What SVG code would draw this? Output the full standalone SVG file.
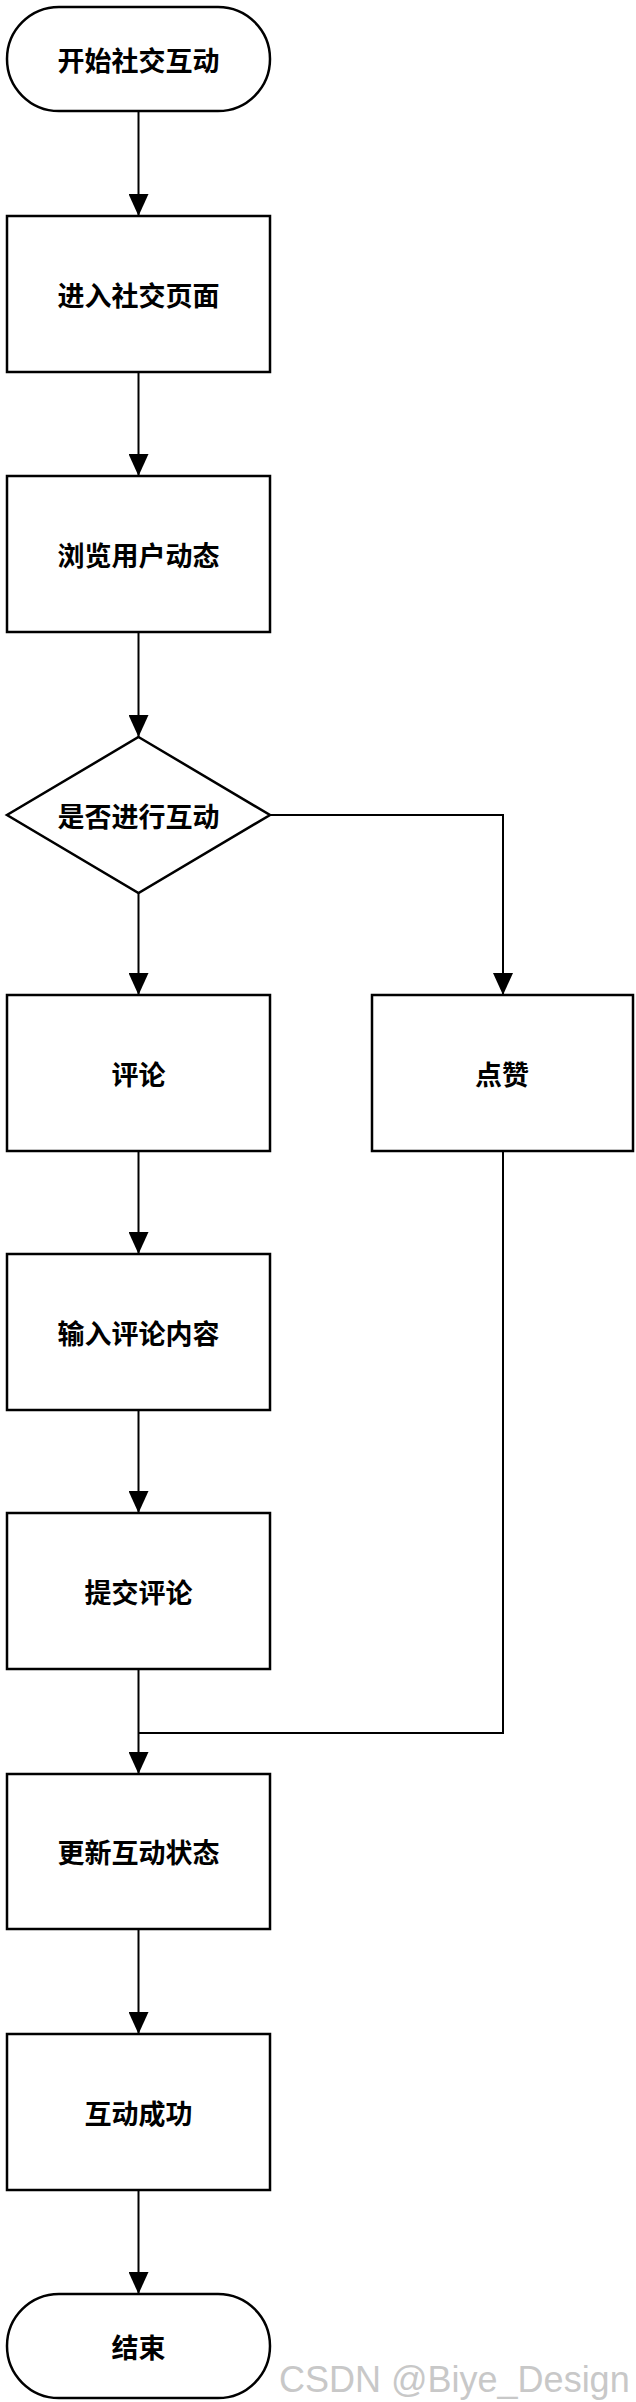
<svg xmlns="http://www.w3.org/2000/svg" width="636" height="2402" viewBox="0 0 636 2402">
<style>
.n{fill:#fff;stroke:#000;stroke-width:2.5}
.t{font-family:"Noto Sans CJK SC","Noto Sans CJK JP",sans-serif;font-weight:bold;font-size:27px;text-anchor:middle;dominant-baseline:central;fill:#000}
.c{fill:none;stroke:#000;stroke-width:2}
</style>
<defs><marker id="a" markerWidth="20" markerHeight="22" refX="10" refY="22" orient="auto-start-reverse" markerUnits="userSpaceOnUse" viewBox="0 0 20 22"><path d="M0,0 L20,0 L10,22 Z" fill="#000"/></marker>
<marker id="ah" markerWidth="22" markerHeight="20" refX="22" refY="10" orient="auto" markerUnits="userSpaceOnUse" viewBox="0 0 22 20"><path d="M0,0 L22,10 L0,20 Z" fill="#000"/></marker></defs>
<g id="connectors">
<path class="c" d="M138.5,111V216" marker-end="url(#ah)"/>
<path class="c" d="M138.5,372V476" marker-end="url(#ah)"/>
<path class="c" d="M138.5,632V737" marker-end="url(#ah)"/>
<path class="c" d="M138.5,893V995" marker-end="url(#ah)"/>
<path class="c" d="M270,815H503V995" marker-end="url(#ah)"/>
<path class="c" d="M138.5,1151V1254" marker-end="url(#ah)"/>
<path class="c" d="M138.5,1410V1513" marker-end="url(#ah)"/>
<path class="c" d="M138.5,1669V1774" marker-end="url(#ah)"/>
<path class="c" d="M503,1151V1733H138.5"/>
<path class="c" d="M138.5,1929V2034" marker-end="url(#ah)"/>
<path class="c" d="M138.5,2190V2294" marker-end="url(#ah)"/>
</g>
<g id="start"><rect class="n" x="7" y="7" width="263" height="104" rx="52"/><text class="t" x="138.5" y="59">开始社交互动</text></g>
<g id="enter"><rect class="n" x="7" y="216" width="263" height="156"/><text class="t" x="138.5" y="294">进入社交页面</text></g>
<g id="browse"><rect class="n" x="7" y="476" width="263" height="156"/><text class="t" x="138.5" y="554">浏览用户动态</text></g>
<g id="decide"><polygon class="n" points="138.5,737 270,815 138.5,893 7,815"/><text class="t" x="138.5" y="815">是否进行互动</text></g>
<g id="comment"><rect class="n" x="7" y="995" width="263" height="156"/><text class="t" x="138.5" y="1073">评论</text></g>
<g id="like"><rect class="n" x="372" y="995" width="261" height="156"/><text class="t" x="502" y="1073">点赞</text></g>
<g id="input"><rect class="n" x="7" y="1254" width="263" height="156"/><text class="t" x="138.5" y="1332">输入评论内容</text></g>
<g id="submit"><rect class="n" x="7" y="1513" width="263" height="156"/><text class="t" x="138.5" y="1591">提交评论</text></g>
<g id="update"><rect class="n" x="7" y="1774" width="263" height="155"/><text class="t" x="138.5" y="1851">更新互动状态</text></g>
<g id="success"><rect class="n" x="7" y="2034" width="263" height="156"/><text class="t" x="138.5" y="2112">互动成功</text></g>
<g id="end"><rect class="n" x="7" y="2294" width="263" height="104" rx="52"/><text class="t" x="138.5" y="2346">结束</text></g>
<text x="279" y="2392" font-family="Liberation Sans, sans-serif" font-size="36" fill="#c8c8c8">CSDN @Biye_Design</text>
</svg>
